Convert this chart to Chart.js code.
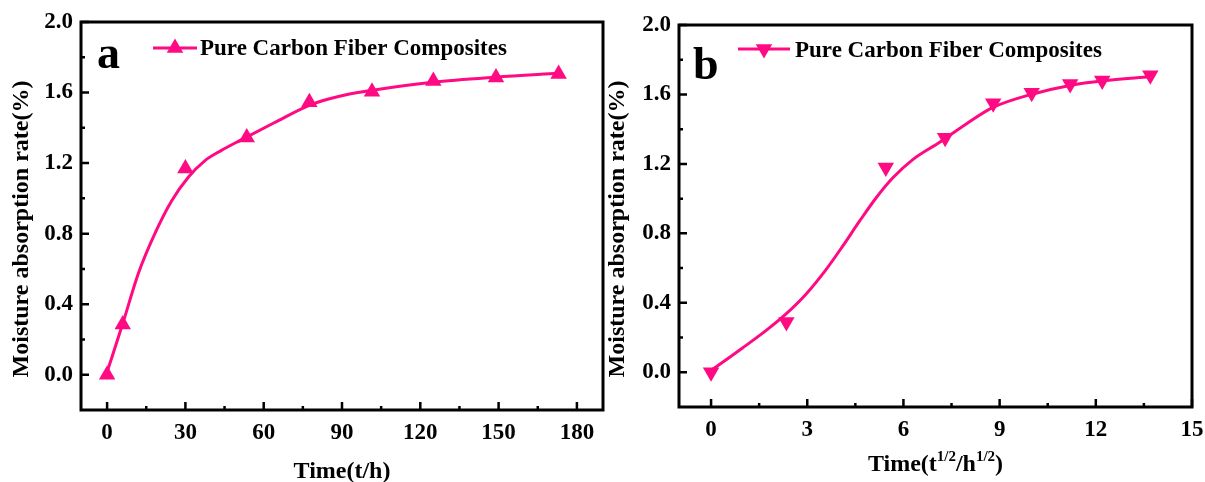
<!DOCTYPE html>
<html><head><meta charset="utf-8">
<script src="https://cdn.jsdelivr.net/npm/chart.js@4.4.1/dist/chart.umd.min.js"></script>
<style>
html,body{margin:0;padding:0;background:#fff;width:1205px;height:482px;overflow:hidden;}
canvas{position:absolute;top:0;}
#c1{left:0}
#c2{left:605px}
</style></head><body>
<canvas id="c1" width="605" height="482"></canvas>
<canvas id="c2" width="600" height="482"></canvas>
<script>
// ---- Data ----
const seriesName = 'Pure Carbon Fiber Composites';
// panel a: time (h) vs moisture absorption (%)
const timeHours = [0, 6, 30, 53.5, 77.5, 101.5, 125, 149, 173];
const uptakeA   = [0.0, 0.285, 1.17, 1.345, 1.545, 1.605, 1.665, 1.685, 1.705];
const fitTimeA   = [0, 6, 12, 18.3, 24.7, 31.1, 37.4, 43.8, 51.4, 64.2, 77, 84.5, 91.6, 101.7, 124.7, 148.9, 173];
const fitUptakeA = [0.015, 0.29, 0.576, 0.80, 0.985, 1.12, 1.213, 1.272, 1.332, 1.43, 1.525, 1.562, 1.588, 1.613, 1.658, 1.687, 1.709];
// panel b: sqrt(time) vs moisture absorption (%)
const rootTime = [0, 2.35, 5.45, 7.3, 8.8, 10.0, 11.2, 12.2, 13.7];
const uptakeB  = [0.0, 0.29, 1.18, 1.35, 1.55, 1.61, 1.66, 1.68, 1.71];
const fitRootB   = [0, 0.98, 1.71, 2.33, 2.96, 3.58, 4.10, 4.63, 5.15, 5.67, 6.29, 7.13, 7.96, 8.79, 10.04, 11.19, 12.23, 13.69];
const fitUptakeB = [0.01, 0.14, 0.24, 0.335, 0.45, 0.59, 0.725, 0.87, 1.005, 1.12, 1.225, 1.325, 1.43, 1.525, 1.603, 1.652, 1.679, 1.702];
// ticks
const yTickLabels = [0.0, 0.4, 0.8, 1.2, 1.6, 2.0];
const yMinorTicks = [0.2, 0.6, 1.0, 1.4, 1.8];
const xTicksA = [0, 30, 60, 90, 120, 150, 180];
const xMinorA = [15, 45, 75, 105, 135, 165];
const xTicksB = [0, 3, 6, 9, 12, 15];
const xMinorB = [1.5, 4.5, 7.5, 10.5, 13.5];

const PINK = '#FF0A82';
const FONT = 'Liberation Serif, Times New Roman, serif';

function tri(ctx, x, y, r, down) {
  ctx.beginPath();
  const s = down ? -1 : 1;
  ctx.moveTo(x, y - s * r);
  ctx.lineTo(x + r * Math.sin(2 * Math.PI / 3), y + s * r / 2);
  ctx.lineTo(x - r * Math.sin(2 * Math.PI / 3), y + s * r / 2);
  ctx.closePath();
  ctx.fill();
}

function decor(cfg) {
  return {
    id: 'decor',
    afterDraw(chart) {
      const ctx = chart.ctx, a = chart.chartArea, x = chart.scales.x, y = chart.scales.y;
      ctx.save();
      ctx.strokeStyle = '#000';
      ctx.lineWidth = 3;
      ctx.strokeRect(a.left, a.top, a.right - a.left, a.bottom - a.top);
      ctx.lineWidth = 2.5;
      ctx.beginPath();
      cfg.xTicks.forEach(v => { const p = x.getPixelForValue(v); ctx.moveTo(p, a.bottom); ctx.lineTo(p, a.bottom - 8); });
      cfg.xMinor.forEach(v => { const p = x.getPixelForValue(v); ctx.moveTo(p, a.bottom); ctx.lineTo(p, a.bottom - 4); });
      yTickLabels.forEach(v => { const p = y.getPixelForValue(v); ctx.moveTo(a.left, p); ctx.lineTo(a.left + 8, p); });
      yMinorTicks.forEach(v => { const p = y.getPixelForValue(v); ctx.moveTo(a.left, p); ctx.lineTo(a.left + 4, p); });
      ctx.stroke();

      // legend
      ctx.strokeStyle = PINK; ctx.fillStyle = PINK; ctx.lineWidth = 3;
      ctx.beginPath(); ctx.moveTo(cfg.lx1, cfg.ly); ctx.lineTo(cfg.lx2, cfg.ly); ctx.stroke();
      tri(ctx, (cfg.lx1 + cfg.lx2) / 2, cfg.ly, 9.5, cfg.down);
      ctx.fillStyle = '#000';
      ctx.textBaseline = 'alphabetic';
      ctx.textAlign = 'left';
      ctx.font = 'bold 23px ' + FONT;
      ctx.fillText(seriesName, cfg.tx, cfg.tyBase);
      // panel letter
      ctx.font = 'bold 46px ' + FONT;
      ctx.fillText(cfg.letter, cfg.letX, cfg.letY);

      // y title
      ctx.font = 'bold 24px ' + FONT;
      ctx.save();
      ctx.translate(cfg.ytX, cfg.ytY);
      ctx.rotate(-Math.PI / 2);
      ctx.textAlign = 'center';
      ctx.fillText('Moisture absorption rate(%)', 0, 0);
      ctx.restore();

      // x title
      const cx = (a.left + a.right) / 2;
      if (!cfg.sup) {
        ctx.textAlign = 'center';
        ctx.fillText('Time(t/h)', cx, cfg.xtY);
      } else {
        const parts = [['Time(t', 0], ['1/2', 1], ['/h', 0], ['1/2', 1], [')', 0]];
        const fMain = 'bold 24px ' + FONT, fSup = 'bold 15px ' + FONT;
        let w = 0;
        parts.forEach(p => { ctx.font = p[1] ? fSup : fMain; w += ctx.measureText(p[0]).width; });
        let px = cx - w / 2;
        ctx.textAlign = 'left';
        parts.forEach(p => {
          ctx.font = p[1] ? fSup : fMain;
          ctx.fillText(p[0], px, cfg.xtY - (p[1] ? 10 : 0));
          px += ctx.measureText(p[0]).width;
        });
      }
      ctx.restore();
    }
  };
}

function makeChart(id, cfg) {
  const tickFont = { family: FONT, weight: 'bold', size: 23 };
  return new Chart(document.getElementById(id), {
    type: 'scatter',
    data: {
      datasets: [
        {
          data: cfg.px.map((v, i) => ({ x: v, y: cfg.py[i] })),
          showLine: false, pointStyle: 'triangle', rotation: cfg.down ? 180 : 0,
          pointRadius: 9.5, pointHoverRadius: 9.5, backgroundColor: PINK, borderColor: PINK, borderWidth: 0
        },
        {
          data: cfg.fx.map((v, i) => ({ x: v, y: cfg.fy[i] })),
          showLine: true, borderColor: PINK, borderWidth: 3, pointRadius: 0,
          cubicInterpolationMode: 'monotone', fill: false
        }
      ]
    },
    options: {
      responsive: false, animation: false, devicePixelRatio: 1,
      layout: { autoPadding: false, padding: { top: cfg.top, right: cfg.right, left: 0, bottom: 0 } },
      plugins: { legend: { display: false }, tooltip: { enabled: false } },
      scales: {
        x: {
          type: 'linear', min: cfg.xmin, max: cfg.xmax,
          grid: { display: false, drawTicks: false }, border: { display: false },
          afterBuildTicks: s => { s.ticks = cfg.xTicks.map(v => ({ value: v })); },
          afterFit: s => { s.height = cfg.xh; s.paddingLeft = 0; s.paddingRight = 0; },
          ticks: { autoSkip: false, maxRotation: 0, padding: 9, color: '#000', font: tickFont, callback: v => String(v) }
        },
        y: {
          type: 'linear', min: -0.2, max: 2.0,
          grid: { display: false, drawTicks: false }, border: { display: false },
          afterBuildTicks: s => { s.ticks = yTickLabels.map(v => ({ value: v })); },
          afterFit: s => { s.width = cfg.yw; s.paddingTop = 0; s.paddingBottom = 0; },
          ticks: { autoSkip: false, padding: 8, color: '#000', font: tickFont, callback: v => Number(v).toFixed(1) }
        }
      }
    },
    plugins: [decor(cfg)]
  });
}

makeChart('c1', {
  px: timeHours, py: uptakeA, fx: fitTimeA, fy: fitUptakeA,
  xmin: -10, xmax: 190, xTicks: xTicksA, xMinor: xMinorA,
  top: 22, right: 2, xh: 72, yw: 81, down: false,
  lx1: 153, lx2: 197, ly: 48, tx: 200, tyBase: 55,
  letter: 'a', letX: 97, letY: 68,
  ytX: 28, ytY: 229, xtY: 478, sup: false
});
makeChart('c2', {
  px: rootTime, py: uptakeB, fx: fitRootB, fy: fitUptakeB,
  xmin: -1, xmax: 15, xTicks: xTicksB, xMinor: xMinorB,
  top: 25, right: 13, xh: 75, yw: 74, down: true,
  lx1: 133, lx2: 185, ly: 49, tx: 190, tyBase: 57,
  letter: 'b', letX: 88, letY: 79,
  ytX: 19, ytY: 229, xtY: 471, sup: true
});
</script>
</body></html>
